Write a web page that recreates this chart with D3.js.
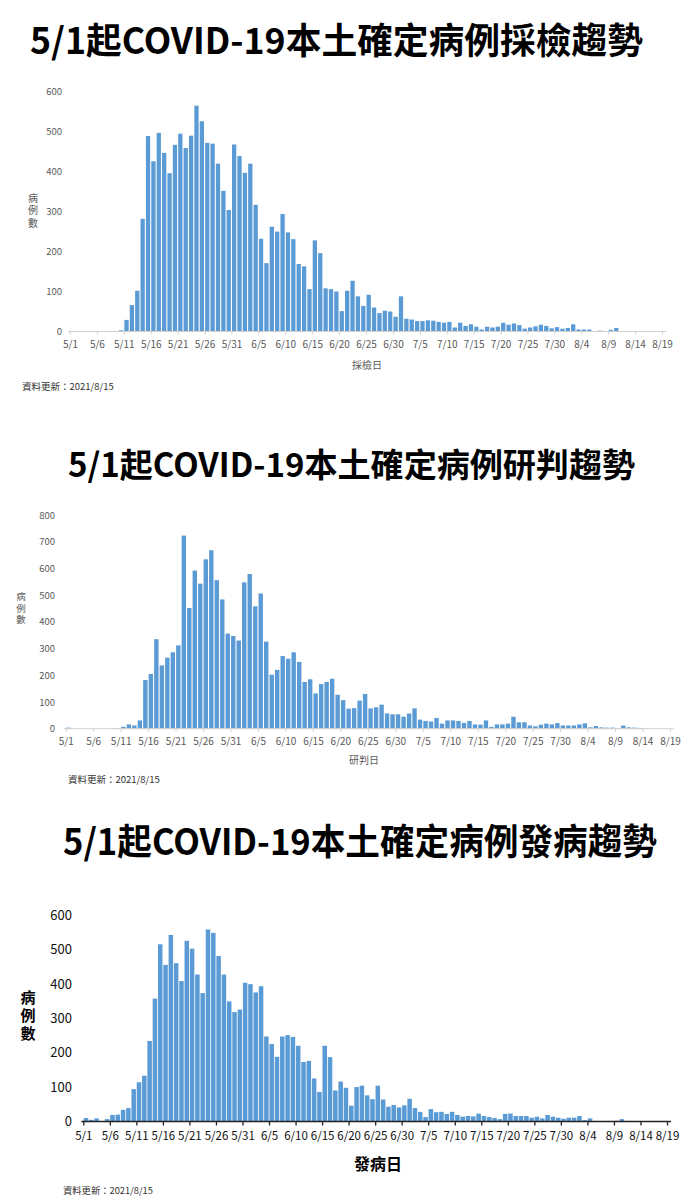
<!DOCTYPE html>
<html><head><meta charset="utf-8">
<script src="https://cdn.jsdelivr.net/npm/d3@7"></script>
<style>body{margin:0;background:#fff} svg{display:block}</style>
</head><body>
<svg id="c" width="700" height="1200"></svg>
<script>
// ---------------- data ----------------
const tickLabels = ["5/1","5/6","5/11","5/16","5/21","5/26","5/31","6/5","6/10","6/15","6/20","6/25","6/30","7/5","7/10","7/15","7/20","7/25","7/30","8/4","8/9","8/14","8/19"];

// 採檢日 (5/1 .. 8/19)
const samplingCases = [
  0,0,0,0,0,0,0,0,1,3,
  29,66,102,282,489,426,497,447,396,467,
  495,459,490,565,526,472,470,420,352,304,
  468,439,397,420,317,232,171,262,250,294,
  248,231,169,163,106,228,196,108,106,100,
  51,102,127,88,64,92,60,46,52,50,
  37,88,32,30,26,26,28,27,24,22,
  24,10,22,14,18,12,5,12,10,12,
  22,17,20,16,7,10,13,17,14,8,
  11,7,9,18,5,5,5,1,2,0,
  4,9,0,1,0,0,0,0,0,0,0
];

// 研判日
const judgedCases = [
  4,0,0,0,0,0,0,0,1,2,
  7,16,12,31,182,205,335,237,266,286,
  312,723,452,592,543,634,668,556,484,356,
  347,330,548,579,458,506,326,202,220,272,
  262,286,250,175,185,132,167,175,187,127,
  107,75,77,105,130,76,80,90,57,54,
  54,45,57,76,34,29,27,40,19,31,
  31,29,22,29,16,15,31,7,16,16,
  19,45,24,24,12,9,15,19,16,21,
  12,12,12,16,20,5,10,5,4,4,
  1,12,5,4,3,0,0,0,0,0,0
];

// 發病日
const onsetCases = [
  10,5,9,1,7,19,20,34,39,94,
  114,133,234,357,515,455,542,460,408,525,
  502,427,373,558,548,481,427,349,318,325,
  403,399,375,393,247,225,188,247,251,246,
  220,173,176,125,86,220,187,90,116,98,
  46,100,104,76,65,104,64,43,48,41,
  47,66,39,28,13,36,27,28,22,28,
  19,14,16,15,23,16,13,10,7,22,
  23,16,16,16,11,14,9,19,14,11,
  8,11,11,16,4,9,1,1,1,1,
  2,7,0,1,1,1,0,0,0,0,0
];

const yTicks1 = [0,100,200,300,400,500,600];
const yTicks2 = [0,100,200,300,400,500,600,700,800];
const yTicks3 = [0,100,200,300,400,500,600];

const chartTitles = ["5/1起COVID-19本土確定病例採檢趨勢","5/1起COVID-19本土確定病例研判趨勢","5/1起COVID-19本土確定病例發病趨勢"];
const xAxisTitles = ["採檢日","研判日","發病日"];
const yAxisTitle = "病例數";
const updateNote = "資料更新：2021/8/15";

// ---------------- drawing ----------------
const svg = d3.select("#c");
const FONT = "'Noto Sans CJK TC','Noto Sans',sans-serif";

function drawPanel(values, yTicks, title, xTitle, L) {
  const g = svg.append("g");
  const n = values.length;
  const x = d3.scaleLinear().domain([0, n - 1]).range([L.x0, L.x1]);
  const yMax = yTicks[yTicks.length - 1];
  const y = d3.scaleLinear().domain([0, yMax]).range([L.yBase, L.yTop]);

  // title
  g.append("text").attr("x", L.title.x).attr("y", L.title.y)
    .attr("dominant-baseline", "central")
    .attr("font-family", FONT).attr("font-weight", "bold")
    .attr("font-size", L.title.size)
    .attr("textLength", L.title.len).attr("lengthAdjust", "spacingAndGlyphs")
    .attr("fill", "#000").text(title);

  // bars
  const step = x(1) - x(0);
  g.append("g").selectAll("rect").data(values).join("rect")
    .attr("x", (d, i) => x(i) + L.gap / 2)
    .attr("width", step - L.gap)
    .attr("y", d => y(d))
    .attr("height", d => L.yBase - y(d))
    .attr("fill", L.barColor);

  // x axis
  const xAxis = d3.axisBottom(x)
    .tickValues(tickLabels.map((t, i) => i * 5))
    .tickFormat((d, i) => tickLabels[i])
    .tickSize(L.tickLen).tickPadding(L.tickPad);
  const ax = g.append("g").attr("transform", `translate(0,${L.yBase})`).call(xAxis);
  ax.select(".domain").attr("stroke", L.axisColor).attr("stroke-width", L.axisWidth)
    .attr("d", `M${L.x0 - 2},0H${L.x1 + 4}`);
  ax.selectAll(".tick line").attr("stroke", L.axisColor).attr("stroke-width", L.axisWidth);
  ax.selectAll(".tick text").attr("font-family", FONT).attr("font-size", L.tickFont)
    .attr("fill", L.textColor).attr("font-weight", L.tickWeight);

  // y axis (labels only)
  const yAxis = d3.axisLeft(y).tickValues(yTicks).tickSize(0).tickPadding(0);
  const ay = g.append("g").attr("transform", `translate(${L.yLabelX},0)`).call(yAxis);
  ay.select(".domain").remove();
  ay.selectAll(".tick text").attr("font-family", FONT).attr("font-size", L.yFont)
    .attr("fill", L.textColor).attr("font-weight", L.tickWeight);

  // y title (vertical stacked characters, one text element)
  g.append("text").attr("x", L.yTitle.x).attr("y", L.yTitle.y)
    .attr("writing-mode", "tb")
    .style("writing-mode", "vertical-rl")
    .style("text-orientation", "upright")
    .attr("letter-spacing", L.yTitle.dy - L.yTitle.size)
    .attr("font-family", FONT).attr("font-size", L.yTitle.size)
    .attr("font-weight", L.yTitle.weight).attr("fill", L.yTitle.color).text(yAxisTitle);

  // x title
  g.append("text").attr("x", L.xTitle.x).attr("y", L.xTitle.y)
    .attr("text-anchor", "middle").attr("dominant-baseline", "central")
    .attr("font-family", FONT).attr("font-size", L.xTitle.size)
    .attr("font-weight", L.xTitle.weight).attr("fill", L.xTitle.color).text(xTitle);

  // note
  g.append("text").attr("x", L.note.x).attr("y", L.note.y)
    .attr("dominant-baseline", "central")
    .attr("font-family", FONT).attr("font-size", L.note.size).attr("fill", "#333").text(updateNote);
}

drawPanel(samplingCases, yTicks1, chartTitles[0], xAxisTitles[0], {
  x0: 70, x1: 662, yBase: 331.5, yTop: 91.7, gap: 1.1, barColor: "#5b9bd5",
  axisColor: "#d0d0d0", axisWidth: 1, tickLen: 3, tickPad: 6, tickFont: 10, yFont: 9.5,
  textColor: "#595959", tickWeight: "normal", yLabelX: 62,
  title: {x: 30, y: 38, size: 36, len: 613},
  yTitle: {x: 33, y: 193, dy: 12.5, size: 10, weight: "normal", color: "#595959"},
  xTitle: {x: 367, y: 364, size: 10, weight: "normal", color: "#595959"},
  note: {x: 22, y: 386, size: 9.5}
});

drawPanel(judgedCases, yTicks2, chartTitles[1], xAxisTitles[1], {
  x0: 65.7, x1: 670, yBase: 728.7, yTop: 515, gap: 1.1, barColor: "#5b9bd5",
  axisColor: "#d0d0d0", axisWidth: 1, tickLen: 3, tickPad: 6, tickFont: 10, yFont: 9.5,
  textColor: "#595959", tickWeight: "normal", yLabelX: 55,
  title: {x: 68, y: 463, size: 33, len: 567},
  yTitle: {x: 21, y: 592, dy: 11.5, size: 9.5, weight: "normal", color: "#595959"},
  xTitle: {x: 364, y: 759, size: 10, weight: "normal", color: "#595959"},
  note: {x: 68, y: 779, size: 9.5}
});

drawPanel(onsetCases, yTicks3, chartTitles[2], xAxisTitles[2], {
  x0: 83.3, x1: 667, yBase: 1121.5, yTop: 915, gap: 0.8, barColor: "#5b9bd5",
  axisColor: "#222", axisWidth: 1.3, tickLen: 4, tickPad: 6, tickFont: 11.5, yFont: 13,
  textColor: "#111", tickWeight: "normal", yLabelX: 72,
  title: {x: 63, y: 839, size: 36, len: 594},
  yTitle: {x: 28, y: 990, dy: 18, size: 15, weight: "bold", color: "#000"},
  xTitle: {x: 378, y: 1163, size: 16, weight: "bold", color: "#000"},
  note: {x: 63, y: 1190, size: 9.3}
});
</script>
</body></html>
